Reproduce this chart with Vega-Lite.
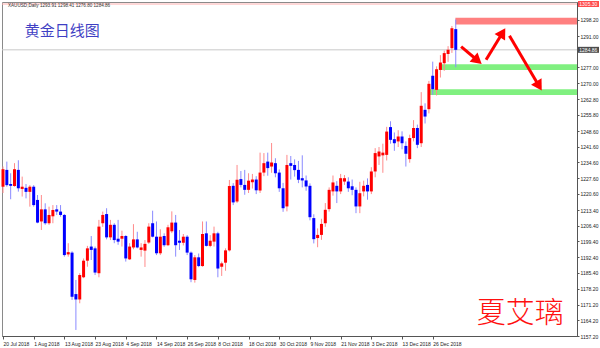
{
  "$schema": "https://vega.github.io/schema/vega-lite/v6.json",
  "width": 575,
  "height": 334,
  "autosize": {"type": "none"},
  "padding": {"left": 2, "top": 2, "right": 23, "bottom": 12},
  "background": "#ffffff",
  "config": {
    "view": {"stroke": "#8a8a8a", "strokeWidth": 1},
    "axis": {"grid": false, "labelFont": "Liberation Sans", "labelFontSize": 5, "labelColor": "#222222", "tickColor": "#555555", "domainColor": "#555555", "labelOverlap": false}
  },
  "datasets": {
    "candles": [
      {"i":0,"d":"2018-07-20","O":1223.8,"H":1232.8,"L":1221.0,"C":1231.6},
      {"i":1,"d":"2018-07-23","O":1231.3,"H":1235.0,"L":1223.8,"C":1224.5},
      {"i":2,"d":"2018-07-24","O":1225.0,"H":1229.8,"L":1218.2,"C":1224.2},
      {"i":3,"d":"2018-07-25","O":1224.1,"H":1234.3,"L":1223.8,"C":1231.6},
      {"i":4,"d":"2018-07-26","O":1231.3,"H":1235.6,"L":1221.6,"C":1223.1},
      {"i":5,"d":"2018-07-27","O":1222.8,"H":1228.3,"L":1219.4,"C":1223.8},
      {"i":6,"d":"2018-07-30","O":1223.3,"H":1225.0,"L":1218.6,"C":1221.5},
      {"i":7,"d":"2018-07-31","O":1221.5,"H":1224.5,"L":1214.9,"C":1223.8},
      {"i":8,"d":"2018-08-01","O":1223.8,"H":1224.5,"L":1214.9,"C":1215.6},
      {"i":9,"d":"2018-08-02","O":1217.9,"H":1220.1,"L":1207.5,"C":1207.8},
      {"i":10,"d":"2018-08-03","O":1208.3,"H":1220.1,"L":1204.5,"C":1213.7},
      {"i":11,"d":"2018-08-06","O":1213.7,"H":1216.4,"L":1206.8,"C":1207.5},
      {"i":12,"d":"2018-08-07","O":1207.5,"H":1214.9,"L":1206.8,"C":1211.2},
      {"i":13,"d":"2018-08-08","O":1210.6,"H":1215.6,"L":1207.5,"C":1213.4},
      {"i":14,"d":"2018-08-09","O":1213.7,"H":1215.6,"L":1211.2,"C":1212.7},
      {"i":15,"d":"2018-08-10","O":1212.7,"H":1215.6,"L":1210.4,"C":1211.2},
      {"i":16,"d":"2018-08-13","O":1211.2,"H":1211.6,"L":1192.6,"C":1193.3},
      {"i":17,"d":"2018-08-14","O":1193.6,"H":1198.6,"L":1192.6,"C":1194.6},
      {"i":18,"d":"2018-08-15","O":1194.4,"H":1195.0,"L":1173.3,"C":1174.7},
      {"i":19,"d":"2018-08-16","O":1175.9,"H":1182.2,"L":1159.9,"C":1173.5},
      {"i":20,"d":"2018-08-17","O":1173.5,"H":1185.2,"L":1171.8,"C":1184.4},
      {"i":21,"d":"2018-08-20","O":1183.4,"H":1191.8,"L":1183.0,"C":1190.8},
      {"i":22,"d":"2018-08-21","O":1190.8,"H":1197.4,"L":1188.1,"C":1196.3},
      {"i":23,"d":"2018-08-22","O":1197.1,"H":1201.8,"L":1191.1,"C":1195.6},
      {"i":24,"d":"2018-08-23","O":1196.3,"H":1197.1,"L":1184.4,"C":1185.5},
      {"i":25,"d":"2018-08-24","O":1185.2,"H":1209.0,"L":1183.4,"C":1206.0},
      {"i":26,"d":"2018-08-27","O":1207.5,"H":1212.7,"L":1205.9,"C":1211.2},
      {"i":27,"d":"2018-08-28","O":1211.6,"H":1214.2,"L":1200.3,"C":1201.2},
      {"i":28,"d":"2018-08-29","O":1201.2,"H":1209.0,"L":1200.0,"C":1206.8},
      {"i":29,"d":"2018-08-30","O":1206.8,"H":1207.5,"L":1198.6,"C":1200.0},
      {"i":30,"d":"2018-08-31","O":1200.6,"H":1209.0,"L":1197.9,"C":1199.3},
      {"i":31,"d":"2018-09-03","O":1200.6,"H":1204.2,"L":1197.1,"C":1201.8},
      {"i":32,"d":"2018-09-04","O":1201.8,"H":1202.2,"L":1190.4,"C":1191.8},
      {"i":33,"d":"2018-09-05","O":1191.4,"H":1198.6,"L":1191.1,"C":1197.1},
      {"i":34,"d":"2018-09-06","O":1196.7,"H":1207.1,"L":1195.9,"C":1200.3},
      {"i":35,"d":"2018-09-07","O":1200.3,"H":1203.7,"L":1196.3,"C":1196.7},
      {"i":36,"d":"2018-09-10","O":1195.6,"H":1198.6,"L":1192.6,"C":1196.7},
      {"i":37,"d":"2018-09-11","O":1195.3,"H":1200.0,"L":1188.0,"C":1198.3},
      {"i":38,"d":"2018-09-12","O":1198.9,"H":1207.5,"L":1198.3,"C":1206.0},
      {"i":39,"d":"2018-09-13","O":1207.5,"H":1213.1,"L":1201.2,"C":1201.5},
      {"i":40,"d":"2018-09-14","O":1201.5,"H":1208.3,"L":1193.3,"C":1194.1},
      {"i":41,"d":"2018-09-17","O":1194.1,"H":1204.8,"L":1193.3,"C":1201.5},
      {"i":42,"d":"2018-09-18","O":1201.8,"H":1203.0,"L":1197.0,"C":1197.7},
      {"i":43,"d":"2018-09-19","O":1197.7,"H":1206.8,"L":1197.3,"C":1205.7},
      {"i":44,"d":"2018-09-20","O":1203.9,"H":1212.8,"L":1203.1,"C":1207.8},
      {"i":45,"d":"2018-09-21","O":1207.8,"H":1211.2,"L":1192.6,"C":1197.7},
      {"i":46,"d":"2018-09-24","O":1199.7,"H":1204.5,"L":1195.6,"C":1198.8},
      {"i":47,"d":"2018-09-25","O":1198.8,"H":1202.7,"L":1197.6,"C":1201.5},
      {"i":48,"d":"2018-09-26","O":1201.5,"H":1202.2,"L":1193.3,"C":1194.4},
      {"i":49,"d":"2018-09-27","O":1194.4,"H":1194.9,"L":1181.2,"C":1182.5},
      {"i":50,"d":"2018-09-28","O":1182.2,"H":1193.3,"L":1181.0,"C":1192.3},
      {"i":51,"d":"2018-10-01","O":1192.3,"H":1194.0,"L":1187.9,"C":1188.4},
      {"i":52,"d":"2018-10-02","O":1188.4,"H":1208.3,"L":1188.1,"C":1202.7},
      {"i":53,"d":"2018-10-03","O":1203.0,"H":1208.3,"L":1197.1,"C":1197.4},
      {"i":54,"d":"2018-10-04","O":1197.4,"H":1202.2,"L":1196.8,"C":1199.7},
      {"i":55,"d":"2018-10-05","O":1199.3,"H":1206.0,"L":1197.1,"C":1203.0},
      {"i":56,"d":"2018-10-08","O":1203.0,"H":1203.7,"L":1183.4,"C":1187.3},
      {"i":57,"d":"2018-10-09","O":1188.1,"H":1190.4,"L":1184.0,"C":1189.6},
      {"i":58,"d":"2018-10-10","O":1189.9,"H":1196.3,"L":1186.3,"C":1195.4},
      {"i":59,"d":"2018-10-11","O":1195.4,"H":1226.8,"L":1194.9,"C":1224.1},
      {"i":60,"d":"2018-10-12","O":1224.2,"H":1225.4,"L":1215.6,"C":1216.8},
      {"i":61,"d":"2018-10-15","O":1217.2,"H":1233.5,"L":1216.5,"C":1226.9},
      {"i":62,"d":"2018-10-16","O":1227.2,"H":1230.8,"L":1223.5,"C":1224.6},
      {"i":63,"d":"2018-10-17","O":1224.6,"H":1231.3,"L":1220.2,"C":1222.4},
      {"i":64,"d":"2018-10-18","O":1222.4,"H":1229.8,"L":1221.0,"C":1226.5},
      {"i":65,"d":"2018-10-19","O":1225.8,"H":1229.5,"L":1223.0,"C":1227.0},
      {"i":66,"d":"2018-10-22","O":1227.0,"H":1228.5,"L":1220.5,"C":1222.2},
      {"i":67,"d":"2018-10-23","O":1222.1,"H":1239.0,"L":1221.0,"C":1230.1},
      {"i":68,"d":"2018-10-24","O":1230.1,"H":1238.8,"L":1228.5,"C":1234.3},
      {"i":69,"d":"2018-10-25","O":1235.0,"H":1239.0,"L":1228.7,"C":1232.1},
      {"i":70,"d":"2018-10-26","O":1232.8,"H":1243.3,"L":1230.0,"C":1234.6},
      {"i":71,"d":"2018-10-29","O":1234.3,"H":1236.5,"L":1228.0,"C":1229.8},
      {"i":72,"d":"2018-10-30","O":1230.1,"H":1231.5,"L":1221.5,"C":1223.1},
      {"i":73,"d":"2018-10-31","O":1223.1,"H":1225.5,"L":1212.6,"C":1214.2},
      {"i":74,"d":"2018-11-01","O":1215.0,"H":1238.0,"L":1212.8,"C":1233.5},
      {"i":75,"d":"2018-11-02","O":1234.3,"H":1237.5,"L":1227.0,"C":1233.1},
      {"i":76,"d":"2018-11-05","O":1233.5,"H":1236.0,"L":1228.3,"C":1231.2},
      {"i":77,"d":"2018-11-06","O":1231.3,"H":1235.3,"L":1225.4,"C":1226.9},
      {"i":78,"d":"2018-11-07","O":1227.6,"H":1237.8,"L":1223.5,"C":1226.6},
      {"i":79,"d":"2018-11-08","O":1226.6,"H":1228.8,"L":1222.0,"C":1223.9},
      {"i":80,"d":"2018-11-09","O":1224.2,"H":1225.3,"L":1208.8,"C":1210.2},
      {"i":81,"d":"2018-11-12","O":1209.8,"H":1211.5,"L":1198.5,"C":1200.4},
      {"i":82,"d":"2018-11-13","O":1200.9,"H":1205.2,"L":1196.8,"C":1202.3},
      {"i":83,"d":"2018-11-14","O":1202.3,"H":1209.5,"L":1200.1,"C":1207.2},
      {"i":84,"d":"2018-11-15","O":1207.5,"H":1216.5,"L":1205.9,"C":1213.5},
      {"i":85,"d":"2018-11-16","O":1213.8,"H":1223.5,"L":1212.7,"C":1222.4},
      {"i":86,"d":"2018-11-19","O":1221.7,"H":1228.8,"L":1219.8,"C":1225.7},
      {"i":87,"d":"2018-11-20","O":1224.2,"H":1226.3,"L":1216.5,"C":1221.7},
      {"i":88,"d":"2018-11-21","O":1221.7,"H":1229.5,"L":1220.5,"C":1227.6},
      {"i":89,"d":"2018-11-22","O":1226.1,"H":1229.0,"L":1224.6,"C":1227.6},
      {"i":90,"d":"2018-11-23","O":1226.1,"H":1228.0,"L":1221.5,"C":1223.1},
      {"i":91,"d":"2018-11-26","O":1224.0,"H":1227.0,"L":1220.0,"C":1222.4},
      {"i":92,"d":"2018-11-27","O":1222.4,"H":1223.5,"L":1212.0,"C":1215.0},
      {"i":93,"d":"2018-11-28","O":1215.0,"H":1226.0,"L":1212.0,"C":1220.9},
      {"i":94,"d":"2018-11-29","O":1221.7,"H":1226.5,"L":1219.5,"C":1224.2},
      {"i":95,"d":"2018-11-30","O":1224.6,"H":1227.5,"L":1218.0,"C":1221.7},
      {"i":96,"d":"2018-12-03","O":1221.7,"H":1232.5,"L":1220.5,"C":1230.6},
      {"i":97,"d":"2018-12-04","O":1230.6,"H":1241.0,"L":1228.0,"C":1238.8},
      {"i":98,"d":"2018-12-05","O":1237.3,"H":1241.5,"L":1233.5,"C":1239.5},
      {"i":99,"d":"2018-12-06","O":1237.8,"H":1243.0,"L":1230.0,"C":1239.0},
      {"i":100,"d":"2018-12-07","O":1238.0,"H":1250.5,"L":1235.5,"C":1248.4},
      {"i":101,"d":"2018-12-10","O":1250.4,"H":1253.0,"L":1243.0,"C":1244.7},
      {"i":102,"d":"2018-12-11","O":1245.0,"H":1248.0,"L":1239.8,"C":1243.2},
      {"i":103,"d":"2018-12-12","O":1244.0,"H":1249.0,"L":1241.5,"C":1246.2},
      {"i":104,"d":"2018-12-13","O":1246.2,"H":1248.5,"L":1240.5,"C":1243.2},
      {"i":105,"d":"2018-12-14","O":1242.0,"H":1244.0,"L":1232.8,"C":1238.5},
      {"i":106,"d":"2018-12-17","O":1236.1,"H":1247.0,"L":1234.5,"C":1245.5},
      {"i":107,"d":"2018-12-18","O":1245.5,"H":1253.5,"L":1244.0,"C":1250.0},
      {"i":108,"d":"2018-12-19","O":1250.0,"H":1251.5,"L":1241.0,"C":1242.5},
      {"i":109,"d":"2018-12-20","O":1243.2,"H":1266.0,"L":1241.5,"C":1259.9},
      {"i":110,"d":"2018-12-21","O":1258.1,"H":1261.0,"L":1252.0,"C":1255.1},
      {"i":111,"d":"2018-12-24","O":1258.4,"H":1271.0,"L":1256.5,"C":1269.7},
      {"i":112,"d":"2018-12-26","O":1273.3,"H":1279.6,"L":1264.8,"C":1267.3},
      {"i":113,"d":"2018-12-27","O":1267.0,"H":1277.5,"L":1264.5,"C":1276.2},
      {"i":114,"d":"2018-12-28","O":1275.9,"H":1282.5,"L":1272.5,"C":1279.2},
      {"i":115,"d":"2018-12-31","O":1278.9,"H":1284.5,"L":1275.5,"C":1283.4},
      {"i":116,"d":"2019-01-02","O":1283.0,"H":1286.5,"L":1279.5,"C":1284.9},
      {"i":117,"d":"2019-01-03","O":1285.6,"H":1295.5,"L":1283.5,"C":1294.5},
      {"i":118,"d":"2019-01-04","O":1294.1,"H":1298.4,"L":1277.1,"C":1284.86}
    ],
    "zones": [
      {"k":"resistance","i1":117.9,"i2":149.6,"p1":1296.2,"p2":1299.2},
      {"k":"support","i1":113.6,"i2":149.6,"p1":1275.9,"p2":1278.4},
      {"k":"support","i1":111.0,"i2":149.6,"p1":1264.7,"p2":1267.3}
    ],
    "arrows": [
      {"id":"a","i1":119.4,"p1":1286.3,"i2":123.7,"p2":1280.1},
      {"id":"b","i1":125.9,"p1":1280.4,"i2":130.2,"p2":1292.5},
      {"id":"c","i1":132.0,"p1":1291.1,"i2":139.7,"p2":1268.7}
    ],
    "tags": [
      {"k":"bid","p":1284.86,"t":"1284.86"},
      {"k":"line","p":1305.3,"t":"1305.30"}
    ]
  },
  "layer": [
    {
      "data": {"name": "zones"},
      "mark": {"type": "rect"},
      "encoding": {
        "x": {"field": "i1", "type": "quantitative", "title": null,
          "scale": {"domain": [-0.26, 149.6], "nice": false, "zero": false},
          "axis": {"orient": "bottom", "values": [0,8,16,24,32,40,48,56,64,72,80,88,96,104,112], "tickCount": 60,
            "labelExpr": "['20 Jul 2018','1 Aug 2018','13 Aug 2018','23 Aug 2018','4 Sep 2018','14 Sep 2018','26 Sep 2018','8 Oct 2018','18 Oct 2018','30 Oct 2018','9 Nov 2018','21 Nov 2018','3 Dec 2018','13 Dec 2018','26 Dec 2018'][round(datum.value/8)]",
            "labelAlign": "left", "labelBaseline": "top", "labelPadding": 2, "tickSize": 3,
            "labelFlush": false, "labelOverlap": false, "labelBound": false, "title": null}},
        "x2": {"field": "i2"},
        "y": {"field": "p1", "type": "quantitative", "title": null,
          "scale": {"domain": [1157.2, 1306.2], "nice": false, "zero": false},
          "axis": {"orient": "right", "values": [1157.2,1164.2,1171.2,1178.2,1185.4,1192.4,1199.4,1206.4,1213.4,1220.6,1227.6,1234.6,1241.6,1248.6,1255.8,1262.8,1270.0,1277.0,1291.0,1298.2], "tickCount": 60,
            "format": ".2f", "tickSize": 2, "labelPadding": 1, "labelFlush": false, "labelOverlap": false, "labelBound": false,
            "labelAlign": "left", "labelBaseline": "middle", "title": null}},
        "y2": {"field": "p2"},
        "color": {"condition": {"test": "datum.k == 'resistance'", "value": "#ff8080"}, "value": "#80f080"}
      }
    },
    {
      "data": {"name": "tags"},
      "mark": {"type": "rule", "strokeWidth": 1},
      "encoding": {
        "y": {"field": "p", "type": "quantitative", "title": null, "scale": {"domain": [1157.2, 1306.2], "nice": false, "zero": false}},
        "color": {"condition": {"test": "datum.k == 'bid'", "value": "#c8c8c8"}, "value": "#ffb0b0"}
      }
    },
    {
      "data": {"name": "candles"},
      "mark": {"type": "rule", "strokeWidth": 1},
      "encoding": {
        "x": {"field": "i", "type": "quantitative", "title": null, "scale": {"domain": [-0.26, 149.6], "nice": false, "zero": false}},
        "y": {"field": "L", "type": "quantitative", "title": null, "scale": {"domain": [1157.2, 1306.2], "nice": false, "zero": false}},
        "y2": {"field": "H"},
        "color": {"condition": {"test": "datum.C >= datum.O", "value": "#ff8a8a"}, "value": "#8a8aff"}
      }
    },
    {
      "data": {"name": "candles"},
      "mark": {"type": "rule", "strokeWidth": 3},
      "encoding": {
        "x": {"field": "i", "type": "quantitative", "title": null, "scale": {"domain": [-0.26, 149.6], "nice": false, "zero": false}},
        "y": {"field": "O", "type": "quantitative", "title": null, "scale": {"domain": [1157.2, 1306.2], "nice": false, "zero": false}},
        "y2": {"field": "C"},
        "color": {"condition": {"test": "datum.C >= datum.O", "value": "#ff0000"}, "value": "#0000ff"}
      }
    },
    {
      "data": {"name": "arrows"},
      "mark": {"type": "rule", "strokeWidth": 3, "color": "#ff0000"},
      "encoding": {
        "x": {"field": "i1", "type": "quantitative", "title": null, "scale": {"domain": [-0.26, 149.6], "nice": false, "zero": false}},
        "x2": {"field": "i2"},
        "y": {"field": "p1", "type": "quantitative", "title": null, "scale": {"domain": [1157.2, 1306.2], "nice": false, "zero": false}},
        "y2": {"field": "p2"}
      }
    },
    {
      "data": {"name": "arrows"},
      "transform": [{"filter": "datum.id == 'a'"}],
      "mark": {"type": "point", "shape": "triangle-up", "filled": true, "opacity": 1, "size": 150, "angle": 130, "color": "#ff0000"},
      "encoding": {
        "x": {"field": "i2", "type": "quantitative", "title": null, "scale": {"domain": [-0.26, 149.6], "nice": false, "zero": false}},
        "y": {"field": "p2", "type": "quantitative", "title": null, "scale": {"domain": [1157.2, 1306.2], "nice": false, "zero": false}}
      }
    },
    {
      "data": {"name": "arrows"},
      "transform": [{"filter": "datum.id == 'b'"}],
      "mark": {"type": "point", "shape": "triangle-up", "filled": true, "opacity": 1, "size": 150, "angle": 31, "color": "#ff0000"},
      "encoding": {
        "x": {"field": "i2", "type": "quantitative", "title": null, "scale": {"domain": [-0.26, 149.6], "nice": false, "zero": false}},
        "y": {"field": "p2", "type": "quantitative", "title": null, "scale": {"domain": [1157.2, 1306.2], "nice": false, "zero": false}}
      }
    },
    {
      "data": {"name": "arrows"},
      "transform": [{"filter": "datum.id == 'c'"}],
      "mark": {"type": "point", "shape": "triangle-up", "filled": true, "opacity": 1, "size": 150, "angle": 149, "color": "#ff0000"},
      "encoding": {
        "x": {"field": "i2", "type": "quantitative", "title": null, "scale": {"domain": [-0.26, 149.6], "nice": false, "zero": false}},
        "y": {"field": "p2", "type": "quantitative", "title": null, "scale": {"domain": [1157.2, 1306.2], "nice": false, "zero": false}}
      }
    },
    {
      "data": {"name": "tags"},
      "mark": {"type": "tick", "orient": "horizontal", "size": 21, "thickness": 6},
      "encoding": {
        "x": {"datum": 152.6, "type": "quantitative", "scale": {"domain": [-0.26, 149.6], "nice": false, "zero": false}},
        "y": {"field": "p", "type": "quantitative", "title": null, "scale": {"domain": [1157.2, 1306.2], "nice": false, "zero": false}},
        "color": {"condition": {"test": "datum.k == 'bid'", "value": "#000000"}, "value": "#ff0000"}
      }
    },
    {
      "data": {"name": "tags"},
      "mark": {"type": "text", "align": "left", "baseline": "middle", "fontSize": 5, "font": "Liberation Sans", "color": "#ffffff"},
      "encoding": {
        "x": {"datum": 150.2, "type": "quantitative", "scale": {"domain": [-0.26, 149.6], "nice": false, "zero": false}},
        "y": {"field": "p", "type": "quantitative", "title": null, "scale": {"domain": [1157.2, 1306.2], "nice": false, "zero": false}},
        "text": {"field": "t"}
      }
    },
    {
      "data": {"values": [{}]},
      "mark": {"type": "text", "align": "left", "baseline": "middle", "fontSize": 4.6, "font": "Liberation Sans", "color": "#333333"},
      "encoding": {
        "x": {"datum": 1.3, "type": "quantitative", "scale": {"domain": [-0.26, 149.6], "nice": false, "zero": false}},
        "y": {"datum": 1304.4, "type": "quantitative", "scale": {"domain": [1157.2, 1306.2], "nice": false, "zero": false}},
        "text": {"value": "XAUUSD,Daily  1293.91 1298.41 1276.80 1284.86"}
      }
    },
    {
      "data": {"values": [{}]},
      "mark": {"type": "text", "align": "left", "baseline": "middle", "fontSize": 15, "font": "Noto Sans CJK SC", "color": "#3f3fc4"},
      "encoding": {
        "x": {"datum": 5.7, "type": "quantitative", "scale": {"domain": [-0.26, 149.6], "nice": false, "zero": false}},
        "y": {"datum": 1293.3, "type": "quantitative", "scale": {"domain": [1157.2, 1306.2], "nice": false, "zero": false}},
        "text": {"value": "黄金日线图"}
      }
    },
    {
      "data": {"values": [{}]},
      "mark": {"type": "text", "align": "center", "baseline": "middle", "fontSize": 29, "font": "Noto Sans CJK SC", "fontWeight": 300, "color": "#ff1010"},
      "encoding": {
        "x": {"datum": 134.8, "type": "quantitative", "scale": {"domain": [-0.26, 149.6], "nice": false, "zero": false}},
        "y": {"datum": 1167.0, "type": "quantitative", "scale": {"domain": [1157.2, 1306.2], "nice": false, "zero": false}},
        "text": {"value": "夏艾璃"}
      }
    }
  ]
}
